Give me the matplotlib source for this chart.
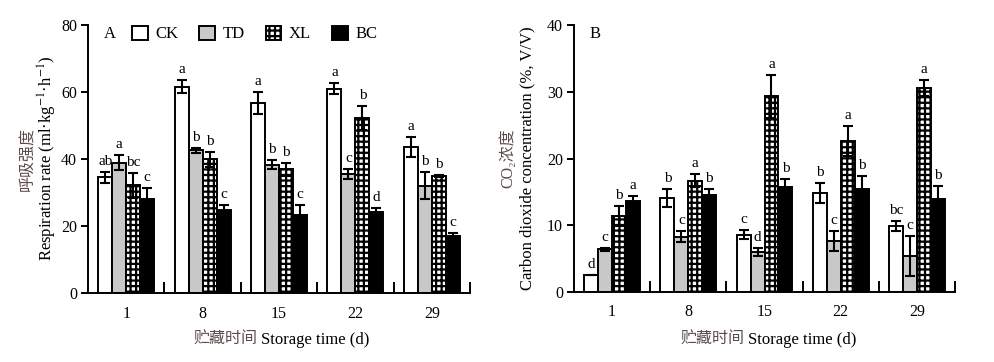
import matplotlib
matplotlib.use('Agg')
import matplotlib.pyplot as plt
import numpy as np

plt.rcParams['font.family'] = ['Liberation Serif', 'Noto Sans CJK SC', 'DejaVu Serif']
plt.rcParams['hatch.linewidth'] = 1.6
plt.rcParams['mathtext.fontset'] = 'stix'

days = ['1', '8', '15', '22', '29']
treatments = ['CK', 'TD', 'XL', 'BC']

# Panel A: respiration rate
resp_CK = [34.5, 61.6, 56.8, 61.0, 43.5]
resp_TD = [38.9, 42.6, 38.3, 35.5, 32.0]
resp_XL = [32.1, 39.9, 36.9, 52.3, 34.8]
resp_BC = [28.0, 24.7, 23.2, 24.1, 17.0]
resp_err_CK = [1.6, 2.0, 3.3, 1.7, 3.0]
resp_err_TD = [2.3, 0.8, 1.4, 1.6, 4.0]
resp_err_XL = [3.6, 2.2, 1.9, 3.5, 0.3]
resp_err_BC = [3.4, 1.7, 3.2, 1.4, 1.0]
resp_let_CK = ['ab', 'a', 'a', 'a', 'a']
resp_let_TD = ['a', 'b', 'b', 'c', 'b']
resp_let_XL = ['bc', 'b', 'b', 'b', 'b']
resp_let_BC = ['c', 'c', 'c', 'd', 'c']

# Panel B: CO2 concentration
co2_CK = [2.55, 14.1, 8.6, 14.9, 9.9]
co2_TD = [6.4, 8.3, 6.0, 7.7, 5.4]
co2_XL = [11.4, 16.7, 29.3, 22.6, 30.5]
co2_BC = [13.7, 14.5, 15.7, 15.5, 14.0]
co2_err_CK = [0.05, 1.4, 0.7, 1.5, 0.8]
co2_err_TD = [0.2, 0.85, 0.6, 1.5, 3.0]
co2_err_XL = [1.5, 1.0, 3.2, 2.3, 1.2]
co2_err_BC = [0.7, 1.0, 1.3, 1.9, 1.9]
co2_let_CK = ['d', 'b', 'c', 'b', 'bc']
co2_let_TD = ['c', 'c', 'd', 'c', 'c']
co2_let_XL = ['b', 'a', 'a', 'a', 'a']
co2_let_BC = ['a', 'b', 'b', 'b', 'b']

styles = {
    'CK': dict(facecolor='white', hatch=None),
    'TD': dict(facecolor='#c8c8c8', hatch=None),
    'XL': dict(facecolor='white', hatch='+++'),
    'BC': dict(facecolor='black', hatch=None),
}

W, H = 994, 362
fig = plt.figure(figsize=(W / 100, H / 100), dpi=100)
cn_color = '#5e4c4c'


def draw_panel(ax, vals, errs, lets, ymax, ystep):
    x = np.arange(len(days))
    bw = 0.183
    handles = []
    for i, t in enumerate(treatments):
        pos = x + (i - 1.5) * bw
        st = styles[t]
        b = ax.bar(pos, vals[i], width=bw, facecolor=st['facecolor'],
                   edgecolor='black', linewidth=1.4, hatch=st['hatch'], zorder=2, label=t)
        handles.append(b)
        ax.errorbar(pos, vals[i], yerr=errs[i], fmt='none', ecolor='black',
                    elinewidth=1.5, capsize=3.8, capthick=1.5, zorder=3)
        for xi, v, e, l in zip(pos, vals[i], errs[i], lets[i]):
            ax.annotate(l, (xi, v + e), xytext=(0, 5), textcoords='offset points',
                        ha='center', va='baseline', fontsize=11)
    ax.set_xlim(-0.5, 4.5)
    ax.set_ylim(0, ymax)
    ax.set_yticks(np.arange(0, ymax + 0.1, ystep))
    ax.set_xticks(x)
    ax.set_xticklabels(days)
    ax.set_xticks(np.arange(0.5, 4.6, 1), minor=True)
    ax.tick_params(axis='x', which='major', length=0, pad=9, labelsize=11.5)
    ax.tick_params(axis='x', which='minor', direction='in', length=8, width=1.4)
    ax.tick_params(axis='y', which='major', direction='out', length=5, width=1.4,
                   labelsize=11.5, pad=3)
    for s in ['top', 'right']:
        ax.spines[s].set_visible(False)
    for s in ['left', 'bottom']:
        ax.spines[s].set_linewidth(1.4)
    return handles


axA = fig.add_axes([88 / W, 1 - 293 / H, (470 - 88) / W, (293 - 25) / H])
hA = draw_panel(axA,
                [resp_CK, resp_TD, resp_XL, resp_BC],
                [resp_err_CK, resp_err_TD, resp_err_XL, resp_err_BC],
                [resp_let_CK, resp_let_TD, resp_let_XL, resp_let_BC], 80, 20)

axB = fig.add_axes([574 / W, 1 - 292 / H, (955 - 574) / W, (292 - 25) / H])
draw_panel(axB,
           [co2_CK, co2_TD, co2_XL, co2_BC],
           [co2_err_CK, co2_err_TD, co2_err_XL, co2_err_BC],
           [co2_let_CK, co2_let_TD, co2_let_XL, co2_let_BC], 40, 10)

# panel letters
fig.text(110 / W, 1 - 34 / H, 'A', ha='center', va='center', fontsize=12)
fig.text(595 / W, 1 - 34 / H, 'B', ha='center', va='center', fontsize=12)

# legend
fig.legend(handles=hA, labels=treatments, ncol=4, loc='center left',
           bbox_to_anchor=(132 / W, 1 - 34 / H), frameon=False, fontsize=12,
           handlelength=0.95, handleheight=0.95, handletextpad=0.45,
           columnspacing=1.25, borderpad=0, borderaxespad=0)

# y labels
fig.text(28 / W, 1 - 159 / H, '呼吸强度', rotation=90, ha='center', va='center',
         fontsize=11.5, color=cn_color)
fig.text(47 / W, 1 - 158 / H, 'Respiration rate (ml·kg$^{-1}$·h$^{-1}$)', rotation=90,
         ha='center', va='center', fontsize=12)
fig.text(508 / W, 1 - 158 / H, 'CO₂浓度', rotation=90, ha='center', va='center',
         fontsize=11.5, color=cn_color)
fig.text(527 / W, 1 - 158 / H, 'Carbon dioxide concentration (%, V/V)', rotation=90,
         ha='center', va='center', fontsize=12)

# x labels
for cx_cn, cx_en in [(257, 261), (744, 748)]:
    fig.text(cx_cn / W, 1 - 340 / H, '贮藏时间', ha='right', va='center',
             fontsize=11.5, color=cn_color)
    fig.text(cx_en / W, 1 - 340 / H, 'Storage time (d)', ha='left', va='center',
             fontsize=12)

fig.savefig('out.png', dpi=100)
